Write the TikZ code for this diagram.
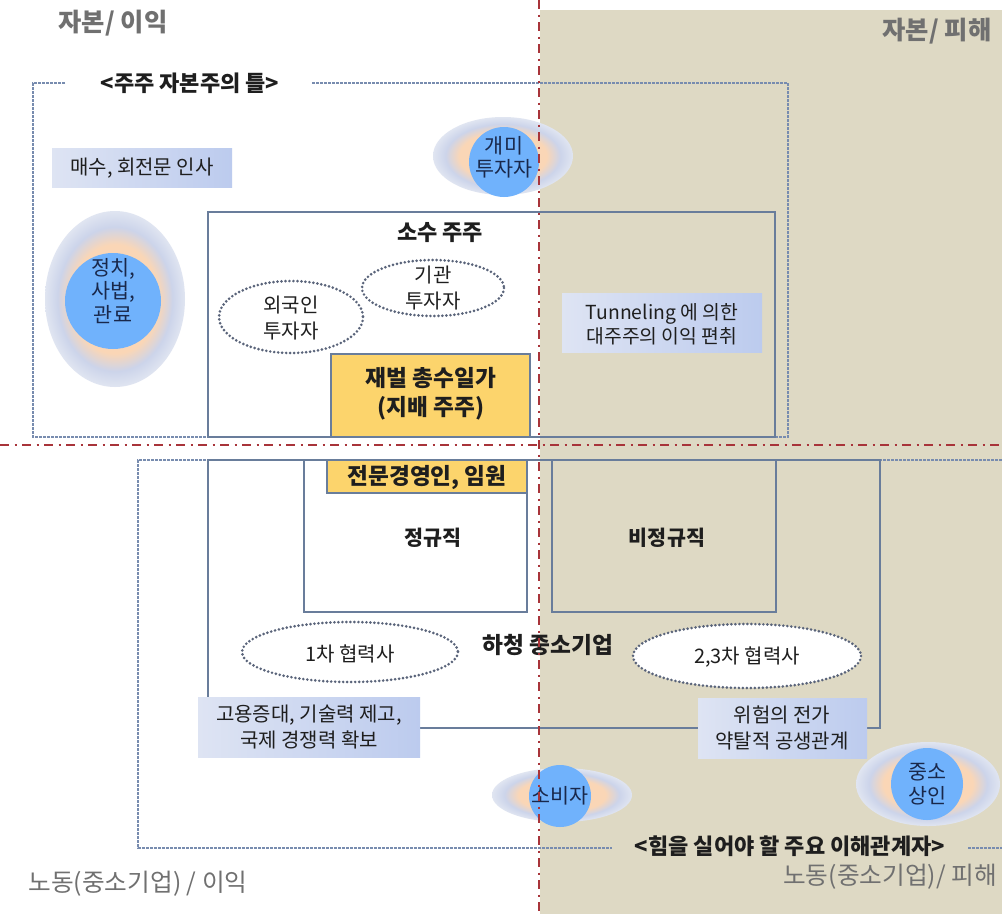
\documentclass[tikz,border=0pt]{standalone}
\usepackage{fontspec}
\setmainfont{Noto Sans CJK KR}
\usetikzlibrary{shapes.geometric}
\definecolor{beige}{RGB}{222,217,196}
\definecolor{redline}{RGB}{168,52,58}
\definecolor{frame}{RGB}{105,125,155}
\definecolor{dashc}{RGB}{120,140,175}
\definecolor{yell}{RGB}{252,212,108}
\definecolor{dotc}{RGB}{90,100,122}
\definecolor{circ}{RGB}{112,178,252}
\definecolor{peach}{RGB}{250,214,182}
\definecolor{glowb}{RGB}{204,212,234}
\definecolor{glowe}{RGB}{224,229,241}
\definecolor{gl}{RGB}{222,228,243}
\definecolor{gr}{RGB}{188,203,238}
\definecolor{txt}{RGB}{30,30,30}
\definecolor{navy}{RGB}{25,40,75}
\definecolor{graytxt}{RGB}{112,112,112}
\pgfdeclareradialshading{glow}{\pgfpoint{0bp}{0bp}}{color(0bp)=(peach); color(15.5bp)=(peach); color(20.5bp)=(glowb); color(25bp)=(glowe); color(50bp)=(glowe)}
\tikzset{
  lbl/.style={font=\fontsize{15}{19}\selectfont, text=txt, align=center, inner sep=0pt},
  blbl/.style={font=\fontsize{17}{22}\selectfont\bfseries, text=txt, align=center, inner sep=0pt},
  mlbl/.style={font=\fontsize{15.5}{21}\selectfont\bfseries, text=txt, align=center, inner sep=0pt},
  ctext/.style={font=\fontsize{15.5}{17.5}\selectfont, text=navy, align=center, inner sep=0pt},
  cornertop/.style={font=\fontsize{19}{22}\selectfont\bfseries, text=graytxt, inner sep=0pt},
  cornerbot/.style={font=\fontsize{18.5}{22}\selectfont, text=graytxt, inner sep=0pt},
  ttl/.style={font=\fontsize{16.5}{20}\selectfont\bfseries, text=txt, inner sep=0pt},
  redl/.style={draw=redline, line width=1.5pt, dash pattern=on 7pt off 4pt on 1.5pt off 4pt},
  frm/.style={draw=frame, line width=0.9pt},
  dsh/.style={draw=dashc, line width=0.8pt, dash pattern=on 2pt off 1pt},
  dotel/.style={draw=dotc, line width=2.2pt, dash pattern=on 0pt off 3pt, line cap=round},
  grad/.style={left color=gl, right color=gr, draw=none},
  glw/.style={shading=glow},
  circf/.style={fill=circ}
}
\begin{document}
\begin{tikzpicture}[x=0.75pt,y=-0.75pt]
\useasboundingbox (0,0) rectangle (1002,914);
\fill[white] (0,0) rectangle (1002,914);
% beige damage half
\fill[beige] (540,10) rectangle (1002,914);

% ---- top frame ----
\draw[dsh] (65,83) -- (33,83) -- (33,437) -- (788,437) -- (788,83) -- (312,83);
\node[ttl] (ttop) at (190,83) {<주주 자본주의 틀>};

% 소수 주주 box
\draw[frm] (208,212) rectangle (775,437);
\node[blbl, font=\fontsize{16.5}{21}\selectfont\bfseries] (sosu) at (440,233) {소수 주주};

% 재벌 box
\draw[frm, fill=yell] (331,354) rectangle (530,437);
\node[blbl] (jaebeol) at (431,394) {재벌 총수일가\\(지배 주주)};

% dotted ellipses top
\draw[dotel] (291,317) ellipse [x radius=72, y radius=36];
\node[lbl] (foreign) at (291,318) {외국인\\투자자};
\draw[dotel] (433,288) ellipse [x radius=71, y radius=28];
\node[lbl] (inst) at (433,288) {기관\\투자자};

% gradient boxes top
\shade[grad] (52,148) rectangle (232,187);
\node[lbl] (maesu) at (142,168) {매수, 회전문 인사};
\shade[grad] (562,293) rectangle (762,352);
\node[lbl, font=\fontsize{14.5}{18}\selectfont] (tunnel) at (662,324) {Tunneling 에 의한\\대주주의 이익 편취};

% glow 정치
\shade[glw] (115,299) ellipse [x radius=70, y radius=88];
\fill[circf] (113,301) circle [radius=48];
\node[ctext] (politic) at (113,291) {정치,\\사법,\\관료};

% glow 개미
\shade[glw] (503,156) ellipse [x radius=70, y radius=39];
\fill[circf] (504,162) circle [radius=35];
\node[ctext] (gaemi) at (504,157) {개미\\투자자};

% ---- bottom frame ----
\draw[dsh] (1002,460) -- (138,460) -- (138,848) -- (612,848);
\draw[dsh] (968,848) -- (1002,848);
\node[ttl] (tbot) at (790,846) {<힘을 실어야 할 주요 이해관계자>};

% 하청 box
\draw[frm] (208,460) rectangle (880,728);
\node[blbl] (hacheong) at (548,645) {하청 중소기업};

% 정규직
\draw[frm] (304,460) rectangle (527,612);
\draw[frm, fill=yell] (327,460) rectangle (527,493);
\node[blbl] (jeonmun) at (427,477) {전문경영인, 임원};
\node[mlbl] (jeonggyu) at (433,538) {정규직};

% 비정규직
\draw[frm] (552,460) rectangle (776,612);
\node[mlbl] (bijeong) at (667,538) {비정규직};

% 협력사 ellipses
\draw[dotel, fill=white] (350,652) ellipse [x radius=108, y radius=30];
\node[lbl] (first) at (350,654) {1차 협력사};
\draw[dotel, fill=white] (747,656) ellipse [x radius=114, y radius=32];
\node[lbl] (second) at (747,657) {2,3차 협력사};

% gradient boxes bottom
\shade[grad] (198,697) rectangle (420,757);
\node[lbl] (goyong) at (309,727) {고용증대, 기술력 제고,\\국제 경쟁력 확보};
\shade[grad] (698,698) rectangle (867,758);
\node[lbl] (wiheom) at (782,728) {위험의 전가\\약탈적 공생관계};

% glow 소비자
\shade[glw] (562,795) ellipse [x radius=70, y radius=27];
\fill[circf] (560,796) circle [radius=31];
\node[ctext] (sobija) at (560,796) {소비자};

% glow 중소 상인
\shade[glw] (928,784) ellipse [x radius=72, y radius=42];
\fill[circf] (927,784) circle [radius=36];
\node[ctext] (sangin) at (927,784) {중소\\상인};

% ---- red axes ----
\draw[redl] (0,445) -- (1002,445);
\draw[redl] (539,0) -- (539,914);

% corner labels
\node[cornertop] (c1) at (113,23) {자본/ 이익};
\node[cornertop] (c2) at (937,31) {자본/ 피해};
\node[cornerbot] (c3) at (138,884) {노동(중소기업) / 이익};
\node[cornerbot] (c4) at (890,877) {노동(중소기업)/ 피해};
\end{tikzpicture}
\end{document}
